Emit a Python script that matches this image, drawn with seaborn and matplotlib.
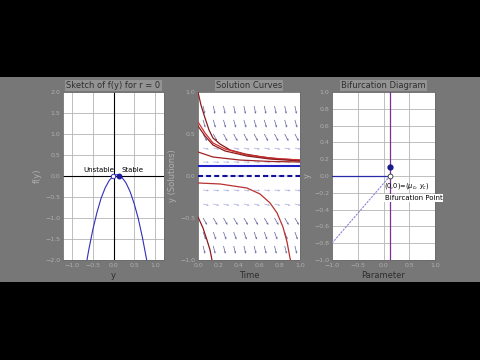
import numpy as np
import pandas as pd
import matplotlib
matplotlib.use("Agg")
import matplotlib.pyplot as plt
from matplotlib.patches import Rectangle
import seaborn as sns

# ---------------- data ----------------
# Panel 1: sketch of f(y)
phase_y = [-0.7, -0.6, -0.5, -0.4, -0.3, -0.2, -0.1, 0.0, 0.05, 0.1, 0.15, 0.2, 0.3, 0.4, 0.5, 0.6, 0.7, 0.8, 0.85]
phase_f = [-2.34, -1.77, -1.28, -0.87, -0.53, -0.28, -0.10, 0.0, 0.03, 0.03, 0.01, -0.03, -0.16, -0.37, -0.66, -1.02, -1.47, -1.99, -2.28]
unstable_y = [-0.02]
stable_y = [0.13]
phase_xticks = [-1, -0.5, 0, 0.5, 1]
phase_yticks = [-2, -1.5, -1, -0.5, 0, 0.5, 1, 1.5, 2]

# Panel 2: solution curves
c1_t = [0, 0.029, 0.069, 0.108, 0.147, 0.216, 0.314, 0.461, 0.637, 0.804, 1.0]
c1_y = [1.0, 0.845, 0.690, 0.548, 0.452, 0.381, 0.310, 0.262, 0.226, 0.202, 0.190]
c2_t = [0, 0.069, 0.147, 0.265, 0.480, 0.706, 1.0]
c2_y = [0.643, 0.512, 0.393, 0.321, 0.250, 0.214, 0.190]
c3_t = [0, 0.069, 0.147, 0.265, 0.480, 0.706, 1.0]
c3_y = [0.595, 0.476, 0.369, 0.298, 0.238, 0.202, 0.179]
c4_t = [0, 0.147, 0.412, 0.706, 1.0]
c4_y = [0.286, 0.226, 0.190, 0.173, 0.167]
c5_t = [0, 0.216, 0.480, 0.608, 0.706, 0.775, 0.833, 0.873, 0.902, 0.912]
c5_y = [-0.083, -0.095, -0.143, -0.214, -0.321, -0.440, -0.607, -0.786, -0.976, -1.02]
c6_t = [0, 0.049, 0.088, 0.118, 0.137]
c6_y = [-0.488, -0.619, -0.762, -0.881, -1.0]
stable_level = 0.12
unstable_level = 0.0
field_t = [0.05, 0.15, 0.25, 0.35, 0.45, 0.55, 0.65, 0.75, 0.85, 0.95]
field_y = [0.833, 0.667, 0.5, 0.333, 0.167, 0.0, -0.167, -0.333, -0.5, -0.667, -0.833]
field_angle = [-78, -74, -62, -12, -3, 0, -6, -15, -60, -70, -76]
sol_xticks = [0, 0.2, 0.4, 0.6, 0.8, 1]
sol_yticks = [-1, -0.5, 0, 0.5, 1]

# Panel 3: bifurcation diagram
branch_mu = [-1.0, 0.126]
branch_y = [0.0, 0.0]
diag_mu = [-1.0, 0.126]
diag_y = [-0.8, 0.0]
mu_c = 0.126
stable_pt_y = 0.11
bif_xticks = [-1, -0.5, 0, 0.5, 1]
bif_yticks = [-1, -0.8, -0.6, -0.4, -0.2, 0, 0.2, 0.4, 0.6, 0.8, 1]

# ---------------- style ----------------
sns.set_theme(style="white")
plt.rcParams["font.family"] = ["DejaVu Sans"]

BG = "#777777"
TICKC = "#b0b0b0"
LABC = "#2e2e2e"
GRIDC = "#b4b4b4"

fig = plt.figure(figsize=(4.8, 3.6), dpi=100, facecolor="black")
fig.add_artist(Rectangle((0, 0.2167), 1, 0.5694, transform=fig.transFigure,
                         facecolor=BG, edgecolor="none", zorder=0))

ax1 = fig.add_axes([63/480, 100/360, 101/480, 168/360])
ax2 = fig.add_axes([198/480, 100/360, 102/480, 168/360])
ax3 = fig.add_axes([332/480, 100/360, 103/480, 168/360])


def style(ax, title, xlabel, ylabel):
    ax.set_facecolor("white")
    for s in ax.spines.values():
        s.set_color("#6a6a6a")
        s.set_linewidth(0.6)
    ax.tick_params(direction="in", length=2, width=0.5, labelsize=4.5,
                   labelcolor=TICKC, color="#666666", pad=2)
    ax.set_title(title, fontsize=6, color=LABC, pad=3,
                 bbox=dict(facecolor="#939393", edgecolor="none", pad=0.8))
    ax.set_xlabel(xlabel, fontsize=6, color=LABC, labelpad=2)
    ax.set_ylabel(ylabel, fontsize=6, color=TICKC, labelpad=2)


# ---- panel 1 ----
df1 = pd.DataFrame({"y": phase_y, "f": phase_f})
ax1.axhline(0, color="black", lw=0.8, zorder=2)
ax1.axvline(0, color="black", lw=0.8, zorder=2)
sns.lineplot(data=df1, x="y", y="f", ax=ax1, color="#2f2fb8", lw=0.8, sort=False, zorder=3)
ax1.plot(unstable_y, [0], "o", ms=3.2, mfc="white", mec="#2f2fb8", mew=0.7, zorder=4)
ax1.plot(stable_y, [0], "o", ms=3.2, mfc="#1a1a9a", mec="#1a1a9a", zorder=5)
ax1.text(-0.36, 0.06, "Unstable", fontsize=5, ha="center", va="bottom", color="black")
ax1.text(0.45, 0.06, "Stable", fontsize=5, ha="center", va="bottom", color="black")
ax1.set_xlim(-1.22, 1.22)
ax1.set_ylim(-2, 2)
ax1.set_xticks(phase_xticks)
ax1.set_yticks(phase_yticks)
ax1.grid(True, color=GRIDC, lw=0.6)
style(ax1, "Sketch of f(y) for r = 0", "y", "f(y)")

# ---- panel 2 ----
TT, YY = np.meshgrid(field_t, field_y)
ang = np.deg2rad(np.repeat(np.array(field_angle)[:, None], len(field_t), axis=1))
mag = np.where(np.abs(np.rad2deg(ang)) < 20, 0.75, 1.0)
U = mag * np.cos(ang)
V = mag * np.sin(ang)
cols = np.where(np.abs(np.rad2deg(ang)) < 20, "#aeb2e0", "#6a6aa2").ravel()
ax2.quiver(TT, YY, U, V, color=cols, angles="uv", scale_units="dots", scale=0.125,
           units="dots", width=0.75, headwidth=3.2, headlength=3.2, headaxislength=2.8,
           pivot="tail", zorder=2)

curves = [(c1_t, c1_y), (c2_t, c2_y), (c3_t, c3_y), (c4_t, c4_y), (c5_t, c5_y), (c6_t, c6_y)]
rows = []
for i, (tt, yy) in enumerate(curves):
    for a, b in zip(tt, yy):
        rows.append({"t": a, "y": b, "curve": f"c{i+1}"})
df2 = pd.DataFrame(rows)
pal = {"c1": "#8b1c1c", "c2": "#d43030", "c3": "#8b1c1c", "c4": "#a02424",
       "c5": "#b83030", "c6": "#8b1c1c"}
sns.lineplot(data=df2, x="t", y="y", hue="curve", palette=pal, ax=ax2, sort=False,
             estimator=None, lw=0.9, legend=False, zorder=3)
ax2.axhline(stable_level, color="#2020c8", lw=1.5, zorder=4)
ax2.axhline(unstable_level, color="#10109a", lw=1.5, ls=(0, (2.4, 1.5)), zorder=4)
ax2.set_xlim(0, 1)
ax2.set_ylim(-1, 1)
ax2.set_xticks(sol_xticks)
ax2.set_yticks(sol_yticks)
style(ax2, "Solution Curves", "Time", "y (Solutions)")

# ---- panel 3 ----
ax3.grid(True, color=GRIDC, lw=0.6)
df3a = pd.DataFrame({"mu": branch_mu, "y": branch_y})
df3b = pd.DataFrame({"mu": diag_mu, "y": diag_y})
sns.lineplot(data=df3a, x="mu", y="y", ax=ax3, color="#2a2aa8", lw=0.9, sort=False, zorder=3)
sns.lineplot(data=df3b, x="mu", y="y", ax=ax3, color="#8a84d8", lw=0.8, ls=(0, (2, 1)),
             sort=False, zorder=3)
ax3.axvline(mu_c, color="#7a2f9a", lw=0.9, zorder=3)
ax3.plot([mu_c], [stable_pt_y], "o", ms=3.5, mfc="#1a1a8a", mec="#1a1a8a", zorder=5)
ax3.plot([mu_c], [0], "o", ms=3.5, mfc="white", mec="#333333", mew=0.6, zorder=5)
ax3.text(0.01, -0.115, r"(0,0)=($\mu_c$, $y_c$)", fontsize=4.8, color="black",
         ha="left", va="center", zorder=6)
ax3.text(0.02, -0.26, "Bifurcation Point", fontsize=5, color="black", ha="left",
         va="center", zorder=6, clip_on=False,
         bbox=dict(facecolor="white", edgecolor="none", pad=0.8))
ax3.set_xlim(-1, 1)
ax3.set_ylim(-1, 1)
ax3.set_xticks(bif_xticks)
ax3.set_yticks(bif_yticks)
style(ax3, "Bifurcation Diagram", "Parameter", "y")

fig.savefig("out.png", dpi=100, facecolor="black")
